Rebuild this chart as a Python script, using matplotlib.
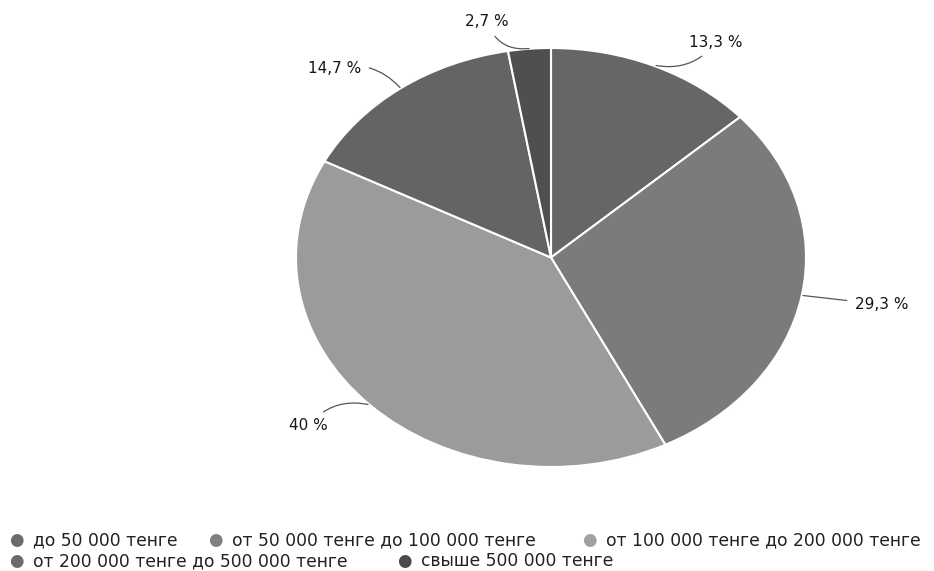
import matplotlib.pyplot as plt

labels = ['до 50 000 тенге', 'от 50 000 тенге до 100 000 тенге', 'от 100 000 тенге до 200 000 тенге',
          'от 200 000 тенге до 500 000 тенге', 'свыше 500 000 тенге']
values = [13.3, 29.3, 40, 14.7, 2.7]
pct_text = ['13,3 %', '29,3 %', '40 %', '14,7 %', '2,7 %']
colors = ['#666666', '#7b7b7b', '#9b9b9b', '#646464', '#4f4f4f']
legend_colors = ['#6b6b6b', '#808080', '#a0a0a0', '#6b6b6b', '#4a4a4a']

W, H = 934, 571
fig = plt.figure(figsize=(W / 100, H / 100), dpi=100)
# axes box = bounding box of the (stretched) pie
ax = fig.add_axes([296 / W, 104 / H, 510 / W, 419 / H])
ax.pie(values, colors=colors, startangle=90, counterclock=False, radius=1,
       wedgeprops={'edgecolor': 'white', 'linewidth': 1.5})
ax.set_aspect('auto')
ax.set_xlim(-1, 1)
ax.set_ylim(-1, 1)
ax.axis('off')


def px(x, y):
    # pixel -> data coords of the pie axes
    return (x - 551) / 255, (258 - y) / 209.5


# leader line start (on the pie), text anchor, alignment, curvature
label_pos = [
    ((656, 66), (689, 43), 'left', -0.3),
    ((803, 296), (855, 305), 'left', 0.0),
    ((368, 405), (328, 426), 'right', -0.3),
    ((400, 88), (361, 69), 'right', -0.3),
    ((529, 49), (509, 22), 'right', 0.4),
]
for t, (p0, p1, ha, rad) in zip(pct_text, label_pos):
    ax.annotate(t, xy=px(*p0), xytext=px(*p1), textcoords='data',
                ha=ha, va='center', fontsize=11, color='#151515', annotation_clip=False,
                arrowprops=dict(arrowstyle='-', color='#555555', lw=0.9,
                                shrinkA=4, shrinkB=0,
                                connectionstyle='arc3,rad=%s' % rad))

# legend, drawn by hand in two rows
leg_pos = [(16, 540), (215, 540), (589, 540), (16, 561), (404, 561)]
for lab, c, (x, y) in zip(labels, legend_colors, leg_pos):
    fig.text(x / W, 1 - y / H, '\u25cf', color=c, fontsize=12, ha='center', va='center')
    fig.text((x + 17) / W, 1 - y / H, lab, color='#222222', fontsize=12.3,
             ha='left', va='center')

fig.savefig('out.png', dpi=100)
